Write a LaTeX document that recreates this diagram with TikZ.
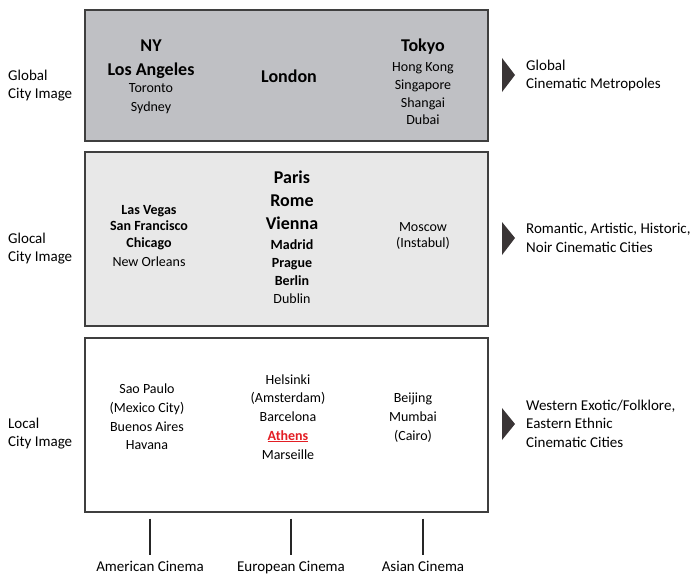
\documentclass[tikz,border=0pt]{standalone}
\usepackage{fontspec}
\setmainfont{Carlito}
\definecolor{globalgray}{HTML}{BFC0C4}
\definecolor{glocalgray}{HTML}{E8E8E8}
\definecolor{framegray}{HTML}{3F3F3F}
\definecolor{pointergray}{HTML}{3A3536}
\definecolor{athensred}{HTML}{E31E24}

\begin{document}
\begin{tikzpicture}[x=1pt,y=-1pt,
    band/.style={draw=framegray,line width=1.6pt,anchor=north west,inner sep=0pt},
    city/.style={anchor=base,inner sep=0pt,font=\fontsize{14}{17}\selectfont},
    bigcity/.style={city,font=\fontsize{18}{21}\selectfont\bfseries},
    boldcity/.style={city,font=\fontsize{14}{17}\selectfont\bfseries},
    rowlabel/.style={anchor=base west,inner sep=0pt,font=\fontsize{15}{18}\selectfont},
    cinema/.style={anchor=base,inner sep=0pt,font=\fontsize{15}{18}\selectfont},
    axistick/.style={line width=2pt,black!85},
    pointer/.style={fill=pointergray}]

\useasboundingbox (0,0) rectangle (694,574);

% the three bands
\node[band,fill=globalgray,minimum width=403pt,minimum height=131pt] (globalbox) at (84,9) {};
\node[band,fill=glocalgray,minimum width=403pt,minimum height=174pt] (glocalbox) at (84,151) {};
\node[band,fill=white,minimum width=403pt,minimum height=174pt] (localbox) at (84,337) {};

% global
\foreach \s/\t/\y [count=\i] in {bigcity/NY/51, bigcity/Los Angeles/75, city/Toronto/92, city/Sydney/111}
    \node[\s] (am1-\i) at (151,\y) {\t};
\node[bigcity] (eu1-1) at (289,82) {London};
\foreach \s/\t/\y [count=\i] in {bigcity/Tokyo/51, city/Hong Kong/71, city/Singapore/89, city/Shangai/107, city/Dubai/124}
    \node[\s] (as1-\i) at (423,\y) {\t};

% glocal
\foreach \s/\t/\y [count=\i] in {boldcity/Las Vegas/214, boldcity/San Francisco/230, boldcity/Chicago/247, city/New Orleans/266}
    \node[\s] (am2-\i) at (149,\y) {\t};
\foreach \s/\t/\y [count=\i] in {bigcity/Paris/183, bigcity/Rome/206, bigcity/Vienna/229, boldcity/Madrid/249, boldcity/Prague/267, boldcity/Berlin/285, city/Dublin/303}
    \node[\s] (eu2-\i) at (292,\y) {\t};
\foreach \s/\t/\y [count=\i] in {city/Moscow/231, city/{(Instabul)}/247}
    \node[\s] (as2-\i) at (423,\y) {\t};

% local
\foreach \s/\t/\y [count=\i] in {city/Sao Paulo/393, city/{(Mexico City)}/412, city/Buenos Aires/431, city/Havana/449}
    \node[\s] (am3-\i) at (147,\y) {\t};
\foreach \s/\t/\y [count=\i] in {city/Helsinki/384, city/{(Amsterdam)}/402, city/Barcelona/421, boldcity/{\textcolor{athensred}{\underline{Athens}}}/440, city/Marseille/459}
    \node[\s] (eu3-\i) at (288,\y) {\t};
\foreach \s/\t/\y [count=\i] in {city/Beijing/402, city/Mumbai/421, city/{(Cairo)}/440}
    \node[\s] (as3-\i) at (413,\y) {\t};

% row labels
\node[rowlabel] (gl1) at (8,80) {Global};
\node[rowlabel] (gl2) at (8,98) {City Image};
\node[rowlabel] (gc1) at (8,243) {Glocal};
\node[rowlabel] (gc2) at (8,261) {City Image};
\node[rowlabel] (lc1) at (8,428) {Local};
\node[rowlabel] (lc2) at (8,446) {City Image};

% pointers and types
\fill[pointer] (502,58) -- (515,75) -- (502,92) -- cycle;
\fill[pointer] (502,222) -- (515,238) -- (502,255) -- cycle;
\fill[pointer] (502,408) -- (515,424) -- (502,440) -- cycle;
\node[rowlabel] (tg1) at (526,70) {Global};
\node[rowlabel] (tg2) at (526,88) {Cinematic Metropoles};
\node[rowlabel] (tc1) at (526,233) {Romantic, Artistic, Historic,};
\node[rowlabel] (tc2) at (526,252) {Noir Cinematic Cities};
\node[rowlabel] (tl1) at (526,410) {Western Exotic/Folklore,};
\node[rowlabel] (tl2) at (526,428) {Eastern Ethnic};
\node[rowlabel] (tl3) at (526,447) {Cinematic Cities};

% cinemas
\node[cinema] (amer) at (150,571) {American Cinema};
\node[cinema] (euro) at (291,571) {European Cinema};
\node[cinema] (asia) at (423,571) {Asian Cinema};
\foreach \c in {amer,euro,asia}
    \draw[axistick] ([yshift=-6pt]localbox.south -| \c.north) -- ([yshift=-42pt]localbox.south -| \c.north);

\end{tikzpicture}
\end{document}
